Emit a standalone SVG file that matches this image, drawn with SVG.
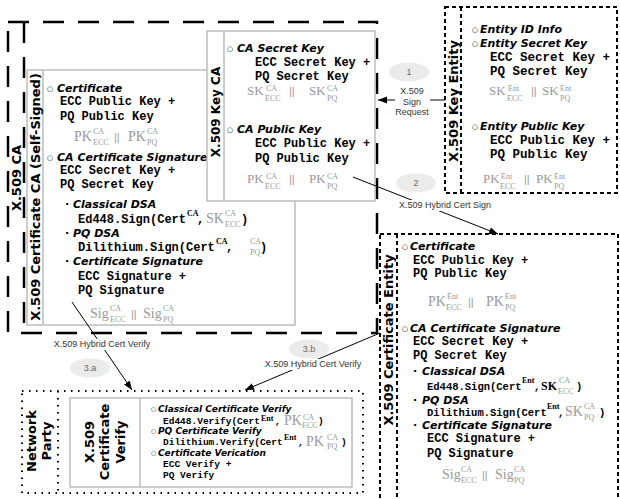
<svg xmlns="http://www.w3.org/2000/svg" width="620" height="499" viewBox="0 0 620 499">
<defs>
<style>
.lbl{font-family:"DejaVu Sans",sans-serif;font-weight:bold;font-size:13px;fill:#000}
.lbl12{font-family:"DejaVu Sans",sans-serif;font-weight:bold;font-size:12px;fill:#000}
.h{font-family:"DejaVu Sans",sans-serif;font-weight:bold;font-style:italic;font-size:11px;fill:#000}
.hv{font-family:"DejaVu Sans",sans-serif;font-weight:bold;font-style:italic;font-size:9px;fill:#000}
.o{font-family:"DejaVu Sans",sans-serif;font-size:7px;fill:#000}
.ov{font-family:"DejaVu Sans",sans-serif;font-size:6px;fill:#000}
.d{font-family:"DejaVu Sans",sans-serif;font-weight:bold;font-size:11px;fill:#000}
.m{font-family:"Liberation Mono","Courier New",monospace;font-weight:bold;font-size:12px;fill:#000}
.m5{font-family:"Liberation Mono","Courier New",monospace;font-weight:bold;font-size:12.5px;fill:#000}
.mf{font-family:"Liberation Mono","Courier New",monospace;font-weight:bold;font-size:10.5px;fill:#000}
.mv{font-family:"Liberation Mono","Courier New",monospace;font-weight:bold;font-size:9.5px;fill:#000}
.g{font-family:"Liberation Serif","Times New Roman",serif;font-size:14px;fill:#999}
.g2{font-family:"Liberation Serif","Times New Roman",serif;font-size:13px;fill:#999}
.s{font-family:"Liberation Serif","Times New Roman",serif;font-size:8px;fill:#999}
.sk{font-family:"Liberation Serif","Times New Roman",serif;font-weight:bold;font-size:8px;fill:#000}
.kb{font-family:"Liberation Serif","Times New Roman",serif;font-weight:bold;font-size:12px;fill:#000}
.bar{font-family:"Liberation Sans",Arial,sans-serif;font-size:11px;fill:#999}
.al{font-family:"Liberation Sans",Arial,sans-serif;font-size:9px;fill:#333}
.bd{font-family:"Liberation Sans",Arial,sans-serif;font-size:9px;fill:#666;text-anchor:middle}
.box{fill:#fff;stroke:#bdbdbd;stroke-width:1.5}
.sep{stroke:#bdbdbd;stroke-width:1.5}
.ld{fill:none;stroke:#000;stroke-width:2.5;stroke-dasharray:21 14}
.sd{fill:none;stroke:#000;stroke-width:2;stroke-dasharray:4 3}
.dt{fill:none;stroke:#000;stroke-width:2;stroke-dasharray:1.5 5.5}
.cn{fill:none;stroke:#000;stroke-width:1;marker-end:url(#ah)}
.badge{fill:#ebebeb}
</style>
<marker id="ah" markerUnits="userSpaceOnUse" markerWidth="10" markerHeight="8" refX="9" refY="3.5" orient="auto">
<path d="M0,0 L9,3.5 L0,7 z" fill="#000"/>
</marker>
</defs>
<rect width="620" height="499" fill="#fff"/>

<g id="ca">
<rect class="ld" x="8" y="22" width="369" height="311"/>
<line class="ld" x1="24" y1="22" x2="24" y2="333"/>
<text class="lbl" text-anchor="middle" transform="translate(21,178) rotate(-90)">X.509 CA</text>
</g>

<g id="cert-ca">
<rect class="box" x="27" y="70" width="268" height="255"/>
<line class="sep" x1="43" y1="70" x2="43" y2="325"/>
<text class="lbl" text-anchor="middle" transform="translate(40,197) rotate(-90)">X.509 Certificate CA (Self-Signed)</text>
<text class="o" x="47" y="91">○</text><text class="h" x="57" y="92">Certificate</text>
<text class="m" x="60" y="105">ECC Public Key +</text>
<text class="m" x="60" y="120">PQ Public Key</text>
<text class="g" x="74" y="141">PK</text><text class="s" x="93" y="134">CA</text><text class="s" x="93" y="145">ECC</text>
<text class="bar" x="114" y="141">||</text>
<text class="g" x="128" y="141">PK</text><text class="s" x="147" y="134">CA</text><text class="s" x="147" y="145">PQ</text>
<text class="o" x="47" y="160">○</text><text class="h" x="57" y="161">CA Certificate Signature</text>
<text class="m" x="60" y="174">ECC Secret Key +</text>
<text class="m" x="60" y="188">PQ Secret Key</text>
<text class="d" x="65" y="208">·</text><text class="h" x="73" y="208">Classical DSA</text>
<text class="m" x="78" y="223">Ed448.Sign(Cert</text><text class="sk" x="187" y="216">CA</text><text class="m" x="197" y="223">,</text>
<text class="g" x="206" y="223">SK</text><text class="s" x="225" y="216">CA</text><text class="s" x="225" y="227">ECC</text><text class="m" x="241" y="223">)</text>
<text class="d" x="65" y="237">·</text><text class="h" x="73" y="237">PQ DSA</text>
<text class="m" x="78" y="251">Dilithium.Sign(Cert</text><text class="sk" x="216" y="244">CA</text><text class="m" x="226" y="251">,</text>
<text class="s" x="250" y="244">CA</text><text class="s" x="250" y="255">PQ</text><text class="m" x="260" y="251">)</text>
<text class="d" x="65" y="265">·</text><text class="h" x="73" y="265">Certificate Signature</text>
<text class="m" x="78" y="280">ECC Signature +</text>
<text class="m" x="78" y="294">PQ Signature</text>
<text class="g" x="90" y="318">Sig</text><text class="s" x="110" y="311">CA</text><text class="s" x="110" y="322">ECC</text>
<text class="bar" x="131" y="318">||</text>
<text class="g" x="143" y="318">Sig</text><text class="s" x="163" y="311">CA</text><text class="s" x="163" y="322">PQ</text>
</g>

<g id="key-ca">
<rect class="box" x="207" y="31" width="168" height="170"/>
<line class="sep" x1="224" y1="31" x2="224" y2="201"/>
<text class="lbl12" text-anchor="middle" transform="translate(220,112) rotate(-90)">X.509 Key CA</text>
<text class="o" x="227" y="51">○</text><text class="h" x="237" y="52">CA Secret Key</text>
<text class="m" x="255" y="66">ECC Secret Key +</text>
<text class="m" x="255" y="80">PQ Secret Key</text>
<text class="g2" x="247" y="95">SK</text><text class="s" x="266" y="91">CA</text><text class="s" x="265" y="101">ECC</text>
<text class="bar" x="289" y="95">||</text>
<text class="g2" x="309" y="95">SK</text><text class="s" x="327" y="91">CA</text><text class="s" x="327" y="101">PQ</text>
<text class="o" x="227" y="132">○</text><text class="h" x="237" y="133">CA Public Key</text>
<text class="m" x="255" y="147">ECC Public Key +</text>
<text class="m" x="255" y="162">PQ Public Key</text>
<text class="g2" x="247" y="183">PK</text><text class="s" x="266" y="179">CA</text><text class="s" x="265" y="189">ECC</text>
<text class="bar" x="289" y="183">||</text>
<text class="g2" x="309" y="183">PK</text><text class="s" x="327" y="179">CA</text><text class="s" x="327" y="189">PQ</text>
</g>

<g id="key-entity">
<rect class="sd" x="445" y="7" width="172" height="186"/>
<line class="sd" x1="461" y1="7" x2="461" y2="193"/>
<text class="lbl" text-anchor="middle" transform="translate(458,101) rotate(-90)">X.509 Key Entity</text>
<text class="o" x="472" y="32">○</text><text class="h" x="480" y="33">Entity ID Info</text>
<text class="o" x="472" y="46">○</text><text class="h" x="480" y="47">Entity Secret Key</text>
<text class="m5" x="490" y="61">ECC Secret Key +</text>
<text class="m5" x="490" y="75">PQ Secret Key</text>
<text class="g2" x="489" y="95">SK</text><text class="s" x="508" y="91">Ent</text><text class="s" x="507" y="101">ECC</text>
<text class="bar" x="531" y="95">||</text>
<text class="g2" x="542" y="95">SK</text><text class="s" x="560" y="91">Ent</text><text class="s" x="560" y="101">PQ</text>
<text class="o" x="472" y="129">○</text><text class="h" x="480" y="130">Entity Public Key</text>
<text class="m5" x="490" y="144">ECC Public Key +</text>
<text class="m5" x="490" y="158">PQ Public Key</text>
<text class="g2" x="483" y="183">PK</text><text class="s" x="501" y="179">Ent</text><text class="s" x="500" y="189">ECC</text>
<text class="bar" x="524" y="183">||</text>
<text class="g2" x="536" y="183">PK</text><text class="s" x="554" y="179">Ent</text><text class="s" x="554" y="189">PQ</text>
</g>

<g id="cert-entity">
<rect class="sd" x="380" y="234" width="238" height="300"/>
<line class="sd" x1="397" y1="234" x2="397" y2="534"/>
<text class="lbl" text-anchor="middle" transform="translate(393,340) rotate(-90)">X.509 Certificate Entity</text>
<text class="o" x="402" y="249">○</text><text class="h" x="410" y="250">Certificate</text>
<text class="m" x="413" y="264">ECC Public Key +</text>
<text class="m" x="413" y="277">PQ Public Key</text>
<text class="g" x="428" y="306">PK</text><text class="s" x="447" y="299">Ent</text><text class="s" x="446" y="310">ECC</text>
<text class="bar" x="468" y="306">||</text>
<text class="g" x="486" y="306">PK</text><text class="s" x="505" y="299">Ent</text><text class="s" x="505" y="310">PQ</text>
<text class="o" x="402" y="331">○</text><text class="h" x="410" y="332">CA Certificate Signature</text>
<text class="m" x="413" y="345">ECC Secret Key +</text>
<text class="m" x="413" y="359">PQ Secret Key</text>
<text class="d" x="413" y="375">·</text><text class="h" x="422" y="375">Classical DSA</text>
<text class="mf" x="427" y="390">Ed448.Sign(Cert</text><text class="sk" x="522" y="383">Ent</text><text class="mf" x="534" y="390">,</text>
<text class="kb" x="541" y="390">SK</text><text class="s" x="559" y="383">CA</text><text class="s" x="558" y="394">ECC</text><text class="mf" x="576" y="390">)</text>
<text class="d" x="413" y="404">·</text><text class="h" x="422" y="404">PQ DSA</text>
<text class="mf" x="427" y="416">Dilithium.Sign(Cert</text><text class="sk" x="547" y="409">Ent</text><text class="mf" x="558" y="416">,</text>
<text class="g" x="565" y="416">SK</text><text class="s" x="584" y="409">CA</text><text class="s" x="584" y="420">PQ</text><text class="mf" x="599" y="416">)</text>
<text class="d" x="413" y="429">·</text><text class="h" x="422" y="429">Certificate Signature</text>
<text class="m" x="427" y="442">ECC Signature +</text>
<text class="m" x="427" y="457">PQ Signature</text>
<text class="g" x="442" y="479">Sig</text><text class="s" x="461" y="472">CA</text><text class="s" x="461" y="483">ECC</text>
<text class="bar" x="482" y="479">||</text>
<text class="g" x="495" y="479">Sig</text><text class="s" x="514" y="472">CA</text><text class="s" x="514" y="483">PQ</text>
</g>

<g id="network-party">
<rect class="dt" x="22" y="391" width="341" height="102"/>
<line class="dt" x1="58" y1="391" x2="58" y2="493"/>
<text class="lbl" text-anchor="middle" transform="translate(36,441) rotate(-90)">Network</text>
<text class="lbl" text-anchor="middle" transform="translate(51,441) rotate(-90)">Party</text>
</g>

<g id="cert-verify">
<rect class="box" x="70" y="398" width="282" height="89"/>
<line class="sep" x1="140" y1="398" x2="140" y2="487"/>
<text class="lbl" text-anchor="middle" transform="translate(94,442) rotate(-90)">X.509</text>
<text class="lbl" text-anchor="middle" transform="translate(109,442) rotate(-90)">Certificate</text>
<text class="lbl" text-anchor="middle" transform="translate(124.5,442) rotate(-90)">Verify</text>
<text class="ov" x="151" y="411">○</text><text class="hv" x="158" y="412">Classical Certificate Verify</text>
<text class="mv" x="163" y="424">Ed448.Verify(Cert</text><text class="sk" x="261" y="421">Ent</text><text class="mv" x="275" y="424">,</text>
<text class="g" x="284" y="425">PK</text><text class="s" x="303" y="420">CA</text><text class="s" x="302" y="428">ECC</text><text class="mv" x="318" y="424">)</text>
<text class="ov" x="151" y="433">○</text><text class="hv" x="158" y="434">PQ Certificate Verify</text>
<text class="mv" x="163" y="445">Dilithium.Verify(Cert</text><text class="sk" x="284" y="440">Ent</text><text class="mv" x="298" y="445">,</text>
<text class="g" x="306" y="446">PK</text><text class="s" x="327" y="440">CA</text><text class="s" x="327" y="449">PQ</text><text class="mv" x="341" y="445">)</text>
<text class="ov" x="151" y="455">○</text><text class="hv" x="158" y="456">Certificate Verication</text>
<text class="mv" x="163" y="467">ECC Verify +</text>
<text class="mv" x="163" y="478">PQ Verify</text>
</g>

<g id="connectors">
<line class="cn" x1="445" y1="100" x2="378" y2="100"/>
<line class="cn" x1="353" y1="177" x2="498" y2="234"/>
<line class="cn" x1="72" y1="302" x2="132" y2="390"/>
<line class="cn" x1="380" y1="333" x2="245" y2="390"/>
<rect x="395" y="85" width="35" height="34" fill="#fff"/>
<text class="al" text-anchor="middle" x="412" y="94">X.509</text>
<text class="al" text-anchor="middle" x="412" y="104.5">Sign</text>
<text class="al" text-anchor="middle" x="412" y="115">Request</text>
<rect x="399" y="200" width="93" height="11" fill="#fff"/>
<text class="al" text-anchor="middle" x="445" y="208">X.509 Hybrid Cert Sign</text>
<rect x="53" y="339" width="99" height="11" fill="#fff"/>
<text class="al" text-anchor="middle" x="102" y="347">X.509 Hybrid Cert Verify</text>
<rect x="263" y="359" width="101" height="11" fill="#fff"/>
<text class="al" text-anchor="middle" x="313" y="367">X.509 Hybrid Cert Verify</text>
<ellipse class="badge" cx="409" cy="72" rx="20" ry="9.5"/><text class="bd" x="409" y="75">1</text>
<ellipse class="badge" cx="416" cy="183" rx="20" ry="9.5"/><text class="bd" x="416" y="186">2</text>
<ellipse class="badge" cx="90" cy="368" rx="20" ry="9.5"/><text class="bd" x="90" y="371">3.a</text>
<ellipse class="badge" cx="309" cy="349" rx="20" ry="9.5"/><text class="bd" x="309" y="352">3.b</text>
</g>
</svg>
